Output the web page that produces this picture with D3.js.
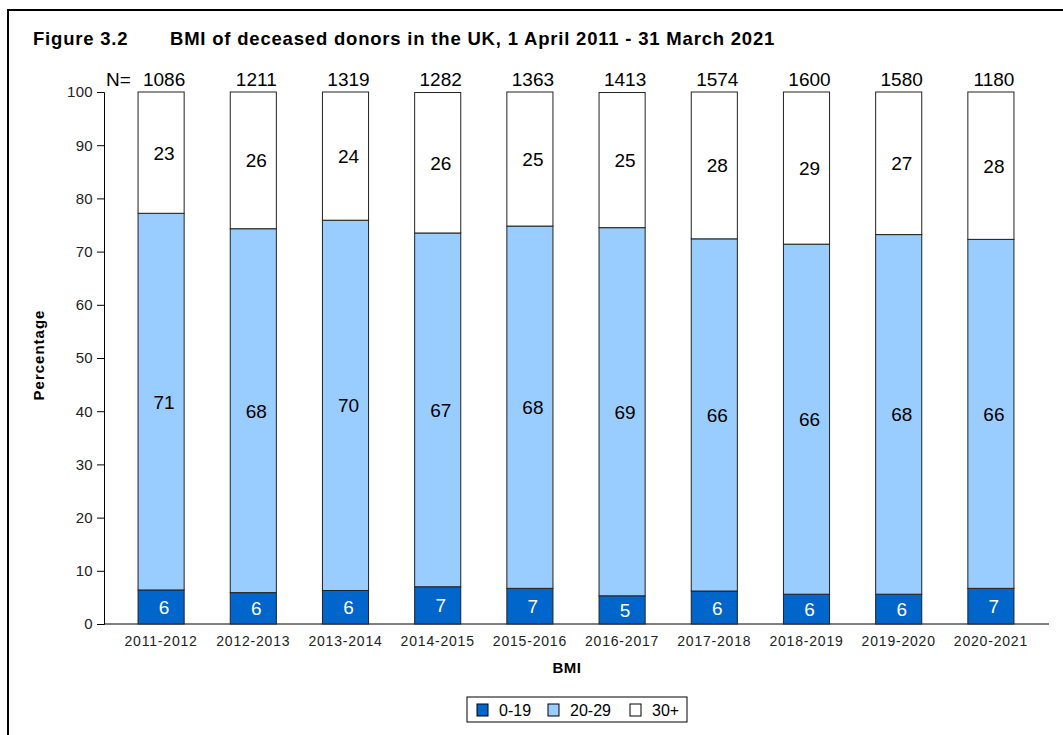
<!DOCTYPE html>
<html>
<head>
    <title>BMI of deceased donors</title>
    <script src="https://d3js.org/d3.v7.min.js"></script>
    <style>
        body { margin: 0; background: #fff; }
        svg { font-family: "Liberation Sans", Arial, sans-serif; }
    </style>
</head>
<body>
<div id="chart-container"></div>
<script>
    const years = ['2011-2012', '2012-2013', '2013-2014', '2014-2015', '2015-2016',
        '2016-2017', '2017-2018', '2018-2019', '2019-2020', '2020-2021'];
    const totals = [1086, 1211, 1319, 1282, 1363, 1413, 1574, 1600, 1580, 1180];
    const bmiLow = [6.4, 5.9, 6.3, 7.0, 6.7, 5.3, 6.2, 5.6, 5.6, 6.7];      // 0-19
    const bmiMid = [70.8, 68.4, 69.6, 66.5, 68.1, 69.2, 66.2, 65.8, 67.6, 65.6]; // 20-29
    const bmiHigh = [22.8, 25.7, 24.1, 26.4, 25.2, 25.4, 27.6, 28.6, 26.8, 27.7]; // 30+
    const groups = ['0-19', '20-29', '30+'];
    const colors = ['#0066CC', '#99CCFF', '#FFFFFF'];
    const labelColors = ['#fff', '#000', '#000'];
    const yTicks = [0, 10, 20, 30, 40, 50, 60, 70, 80, 90, 100];

    const width = 1063, height = 735;

    const svg = d3.select('#chart-container')
        .append('svg')
        .attr('width', width)
        .attr('height', height);

    // frame
    svg.append('rect')
        .attr('x', 8).attr('y', 10)
        .attr('width', 1070).attr('height', 740)
        .attr('fill', 'none').attr('stroke', '#000').attr('stroke-width', 2);

    svg.append('text').attr('x', 33).attr('y', 45)
        .attr('font-size', 18.5).attr('font-weight', 'bold').attr('letter-spacing', 0.8)
        .text('Figure 3.2');
    svg.append('text').attr('x', 170).attr('y', 45)
        .attr('font-size', 18.5).attr('font-weight', 'bold').attr('letter-spacing', 0.8)
        .text('BMI of deceased donors in the UK, 1 April 2011 - 31 March 2021');

    const x = d3.scaleBand().domain(years).range([115, 1037]).paddingInner(0.5).paddingOuter(0.25);
    const y = d3.scaleLinear().domain([0, 100]).range([624, 92]);

    const rows = years.map((yr, i) => ({ year: yr, '0-19': bmiLow[i], '20-29': bmiMid[i], '30+': bmiHigh[i] }));
    const stacked = d3.stack().keys(groups)(rows);

    // y axis
    svg.append('g')
        .attr('transform', 'translate(104,0)')
        .call(d3.axisLeft(y).tickValues(yTicks).tickSize(7).tickPadding(4))
        .attr('font-family', null).attr('font-size', 15)
        .call(g => g.selectAll('line, path').attr('stroke', '#000'))
        .call(g => g.selectAll('text').attr('fill', '#222').attr('letter-spacing', 0.3));

    // x axis
    svg.append('g')
        .attr('transform', 'translate(0,624)')
        .call(d3.axisBottom(x).tickSize(0).tickPadding(12))
        .attr('font-family', null).attr('font-size', 14)
        .call(g => g.select('.domain').remove())
        .call(g => g.selectAll('text').attr('fill', '#222').attr('letter-spacing', 0.8));
    svg.append('line')
        .attr('x1', 104).attr('x2', 1049).attr('y1', 624).attr('y2', 624)
        .attr('stroke', '#000');

    // bars
    const layer = svg.selectAll('.layer')
        .data(stacked)
        .enter()
        .append('g')
        .attr('class', 'layer')
        .attr('fill', (d, i) => colors[i]);

    layer.selectAll('rect')
        .data(d => d)
        .enter()
        .append('rect')
        .attr('x', d => x(d.data.year))
        .attr('y', d => y(d[1]))
        .attr('width', x.bandwidth())
        .attr('height', d => y(d[0]) - y(d[1]))
        .attr('stroke', '#222')
        .attr('stroke-width', 1);

    layer.selectAll('text')
        .data((d, i) => d.map(v => ({ v: v, i: i })))
        .enter()
        .append('text')
        .attr('x', d => x(d.v.data.year) + x.bandwidth() / 2 + 3)
        .attr('y', d => y((d.v[0] + d.v[1]) / 2) + 7)
        .attr('text-anchor', 'middle')
        .attr('font-size', 19)
        .attr('fill', d => labelColors[d.i])
        .text(d => Math.round(d.v[1] - d.v[0]));

    // N labels
    svg.append('text').attr('x', 106).attr('y', 86).attr('font-size', 19).text('N=');
    svg.selectAll('.ntext')
        .data(totals)
        .enter()
        .append('text')
        .attr('class', 'ntext')
        .attr('x', (d, i) => x(years[i]) + x.bandwidth() / 2 + 3)
        .attr('y', 86)
        .attr('text-anchor', 'middle')
        .attr('font-size', 19)
        .text(d => d);

    // axis titles
    svg.append('text')
        .attr('transform', 'translate(44,355) rotate(-90)')
        .attr('text-anchor', 'middle')
        .attr('font-size', 15).attr('font-weight', 'bold').attr('letter-spacing', 1)
        .text('Percentage');
    svg.append('text')
        .attr('x', 567).attr('y', 673)
        .attr('text-anchor', 'middle')
        .attr('font-size', 15).attr('font-weight', 'bold').attr('letter-spacing', 0.5)
        .text('BMI');

    // legend
    const legend = svg.append('g');
    legend.append('rect')
        .attr('x', 467).attr('y', 697).attr('width', 220).attr('height', 25)
        .attr('fill', '#fff').attr('stroke', '#000');
    const legendX = [477, 548, 630];
    groups.forEach((g, i) => {
        legend.append('rect')
            .attr('x', legendX[i]).attr('y', 704).attr('width', 11).attr('height', 12)
            .attr('fill', colors[i]).attr('stroke', '#000');
        legend.append('text')
            .attr('x', legendX[i] + 22).attr('y', 716)
            .attr('font-size', 16)
            .text(g);
    });
</script>
</body>
</html>
